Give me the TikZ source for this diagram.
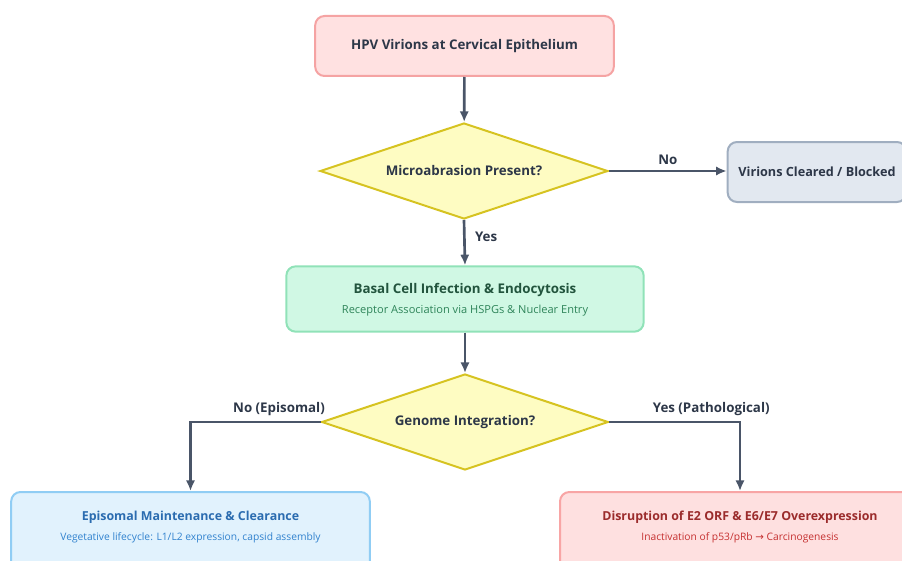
\documentclass[tikz,border=0pt]{standalone}
\usepackage{fontspec}
\setmainfont{Open Sans}
\newfontfamily\pfeilfont{DejaVu Sans}
\usetikzlibrary{positioning, arrows.meta, shapes.geometric}
\definecolor{pfeil}{HTML}{4A5568}
\definecolor{dunkel}{HTML}{2D3748}
\definecolor{rosafill}{HTML}{FFE1E1}
\definecolor{rosarand}{HTML}{F5A3A3}
\definecolor{gelbfill}{HTML}{FEFCC2}
\definecolor{gelbrand}{HTML}{D6C321}
\definecolor{graufill}{HTML}{E2E8F0}
\definecolor{graurand}{HTML}{A0AEC0}
\definecolor{gruenfill}{HTML}{D0F8E4}
\definecolor{gruenrand}{HTML}{90E2B8}
\definecolor{gruentext}{HTML}{22543D}
\definecolor{gruensub}{HTML}{2F855A}
\definecolor{blaufill}{HTML}{E1F2FD}
\definecolor{blaurand}{HTML}{90CDF4}
\definecolor{blautext}{HTML}{2B6CB0}
\definecolor{blausub}{HTML}{3182CE}
\definecolor{rotfill}{HTML}{FEE0E0}
\definecolor{rotrand}{HTML}{F8A5A5}
\definecolor{rottext}{HTML}{9B2C2C}
\definecolor{rotsub}{HTML}{C53030}

\begin{document}
\begin{tikzpicture}[x=0.75pt, y=-0.75pt, font=\fontsize{10}{12}\selectfont\bfseries,
    >={Latex[length=8pt, width=7pt]}]

    % --- Stile ---
    \tikzset{
        box/.style={rectangle, rounded corners=7pt, line width=1.5pt, align=center, text=dunkel, inner sep=0pt},
        rosabox/.style={box, fill=rosafill, draw=rosarand, minimum width=224pt, minimum height=45pt},
        graubox/.style={box, fill=graufill, draw=graurand, minimum width=134pt, minimum height=45pt,
            font=\fontsize{9.5}{11}\selectfont\bfseries},
        gruenbox/.style={box, fill=gruenfill, draw=gruenrand, minimum width=268pt, minimum height=49pt},
        blaubox/.style={box, fill=blaufill, draw=blaurand, minimum width=269pt, minimum height=60pt},
        rotbox/.style={box, fill=rotfill, draw=rotrand, minimum width=270pt, minimum height=60pt},
        frage/.style={diamond, aspect=3, fill=gelbfill, draw=gelbrand, line width=1.5pt, text=dunkel, inner sep=0pt},
        titel/.style={font=\fontsize{10}{12}\selectfont\bfseries},
        unter/.style={font=\fontsize{8.3}{10}\selectfont},
        titelklein/.style={font=\fontsize{9.3}{11}\selectfont\bfseries},
        unterklein/.style={font=\fontsize{7.7}{9}\selectfont},
        verb/.style={->, draw=pfeil, line width=2pt},
        label/.style={text=dunkel, inner sep=3pt}
    }

    \clip (0,0) rectangle (902,560);

    % --- Knoten ---
    \node[rosabox] (start) at (464.5,46) {HPV Virions at Cervical Epithelium};
    \node[frage, minimum width=216pt, minimum height=72pt] (abr) at (464,171) {Microabrasion Present?};
    \node[graubox] (cleared) at (817,172) {Virions Cleared / Blocked};
    \node[gruenbox] (infekt) at (465,299) {};
    \node[titel, text=gruentext] at (465,290) {Basal Cell Infection \& Endocytosis};
    \node[unter, text=gruensub] at (465,311) {Receptor Association via HSPGs \& Nuclear Entry};
    \node[frage, minimum width=215pt, minimum height=72pt] (integ) at (465,422) {Genome Integration?};
    \node[blaubox] (episom) at (190.5,532) {};
    \node[titelklein, text=blautext] at (190.5,517) {Episomal Maintenance \& Clearance};
    \node[unterklein, text=blausub] at (190.5,538) {Vegetative lifecycle: L1/L2 expression, capsid assembly};
    \node[rotbox] (onko) at (740,532) {};
    \node[titelklein, text=rottext] at (740,517) {Disruption of E2 ORF \& E6/E7 Overexpression};
    \node[unterklein, text=rotsub] at (740,538) {Inactivation of p53/pRb {\pfeilfont →} Carcinogenesis};

    % --- Pfeile ---
    \draw[verb] (start) -- (abr);
    \draw[verb] (abr.east) -- (cleared.west |- abr.east) node[midway, above, label, yshift=1pt] {No};
    \draw[verb] (abr.south) -- (infekt.north) node[pos=0.36, right, label, xshift=4pt] {Yes};
    \draw[verb] (infekt.south) -- (integ.north);
    \draw[verb] (integ.west) -| (episom.north) node[pos=0.16, above, label, yshift=1pt] {No (Episomal)};
    \draw[verb] (integ.east) -| (onko.north) node[pos=0.39, above, label, yshift=1pt] {Yes (Pathological)};

\end{tikzpicture}
\end{document}
